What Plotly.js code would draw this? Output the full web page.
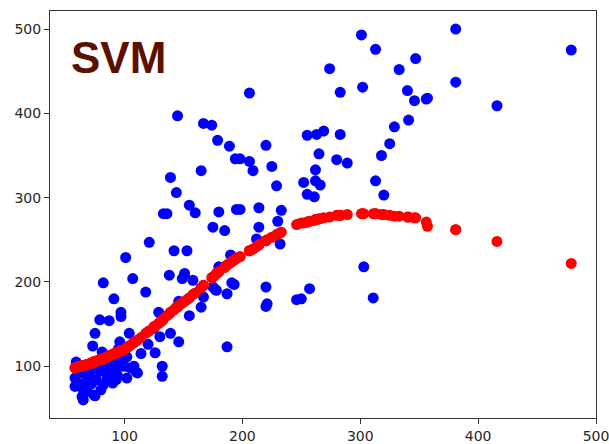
<!DOCTYPE html>
<html>
<head>
<meta charset="utf-8">
<script src="https://cdn.plot.ly/plotly-3.0.1.min.js"></script>
<style>html,body{margin:0;padding:0;background:#fff;}#chart{width:609px;height:444px;}</style>
</head>
<body>
<div id="chart"></div>
<script>
// x values (shared by actual and SVM-predicted points)
const xValues = [
  301,313,347,333,274,206,381,381,302,283,340,346,356,416,479,341,329,325,318,320,
  313,283,269,263,255,265,280,289,262,252,262,266,255,261,220,206,209,225,229,198,
  214,233,198,230,214,232,212,303,311,220,221,220,257,246,250,145,167,174,179,189,
  194,165,139,144,155,160,133,136,180,195,175,185,121,101,142,153,107,118,138,151,
  149,158,193,190,177,187,82,91,97,97,79,87,75,73,96,104,129,146,187,126,
  132,132,111,108,102,114,167,175,178,191,180,146,139,130,81,59,58,58,65,65,
  64,74,75,68,76,85,93,100,71,79,88,96,105,62,66,70,72,78,82,84,
  86,90,92,94,96,102,88,90,95,100,63,73,60,68,80,110,120,125,155,165,357
];
// actual values (blue)
const actualValues = [
  493,476,465,452,453,424,500,437,431,425,427,415,417,409,475,392,384,364,350,303,
  320,375,379,375,374,352,345,341,333,318,320,315,304,301,362,343,332,337,314,346,
  288,285,286,272,265,245,251,218,181,194,174,171,192,179,180,397,388,386,368,361,
  346,332,324,306,291,282,281,281,283,286,265,261,247,229,237,237,204,188,208,210,
  204,202,197,232,191,186,199,180,164,159,155,154,139,124,129,139,164,129,123,116,
  100,88,92,100,111,115,182,194,190,199,218,177,139,135,117,105,86,76,72,60,
  64,66,65,84,84,84,84,100,94,94,96,100,98,92,80,88,79,100,78,96,
  88,80,98,89,105,86,106,110,121,118,100,102,80,70,72,93,126,145,160,170,418
];
// SVM predicted values (red)
const svmValues = [
  281,281,276,278,277,237,262,262,281,279,277,276,271,248,222,277,278,279,280,280,
  281,279,276,274,271,275,279,280,274,270,274,275,271,273,249,237,239,253,256,230,
  244,259,230,257,244,258,242,281,281,249,250,249,272,268,270,170,196,205,211,222,
  227,193,164,170,181,187,156,160,212,228,206,217,142,121,167,179,127,139,162,177,
  175,185,226,223,208,220,109,115,118,118,108,112,106,105,118,124,151,172,220,147,
  154,154,131,128,122,134,196,206,210,224,212,172,164,152,109,99,98,98,101,101,
  101,105,105,102,106,111,116,120,103,108,113,118,125,100,101,103,104,107,109,110,
  111,114,115,116,118,122,113,114,117,120,100,104,99,102,108,130,141,147,181,193,266
];
const xTicks = [100, 200, 300, 400, 500];
const yTicks = [100, 200, 300, 400, 500];
const titleText = "SVM";

const axisFont = {family: "DejaVu Sans", size: 14, color: "#262626"};
const traces = [
  {x: xValues, y: actualValues, type: "scatter", mode: "markers",
   marker: {color: "#0000ff", size: 11, line: {width: 0}}, hoverinfo: "skip"},
  {x: xValues, y: svmValues, type: "scatter", mode: "markers",
   marker: {color: "#ff0000", size: 11, line: {width: 0}}, hoverinfo: "skip"}
];
const layout = {
  width: 609, height: 444,
  margin: {l: 50, r: 13, t: 11, b: 26, pad: 0},
  paper_bgcolor: "#fff", plot_bgcolor: "#fff",
  showlegend: false,
  xaxis: {range: [36.8, 500], tickvals: xTicks, ticktext: xTicks.map(String),
    showgrid: false, zeroline: false, showline: true, mirror: true,
    linecolor: "#333", linewidth: 1, ticks: "outside", ticklen: 5, tickcolor: "#333",
    tickfont: axisFont, ticklabeloverflow: "allow"},
  yaxis: {range: [38.6, 521.4], tickvals: yTicks, ticktext: yTicks.map(String),
    showgrid: false, zeroline: false, showline: true, mirror: true,
    linecolor: "#333", linewidth: 1, ticks: "outside", ticklen: 5, tickcolor: "#333",
    tickfont: axisFont, ticklabeloverflow: "allow"},
  annotations: [{text: "<b>" + titleText + "</b>", xref: "paper", yref: "paper",
    x: 0.034, y: 0.885, xanchor: "left", yanchor: "middle", showarrow: false,
    font: {family: "Liberation Sans", size: 44, color: "#5C1100"}}]
};
Plotly.newPlot("chart", traces, layout, {staticPlot: true, displayModeBar: false});
</script>
</body>
</html>
